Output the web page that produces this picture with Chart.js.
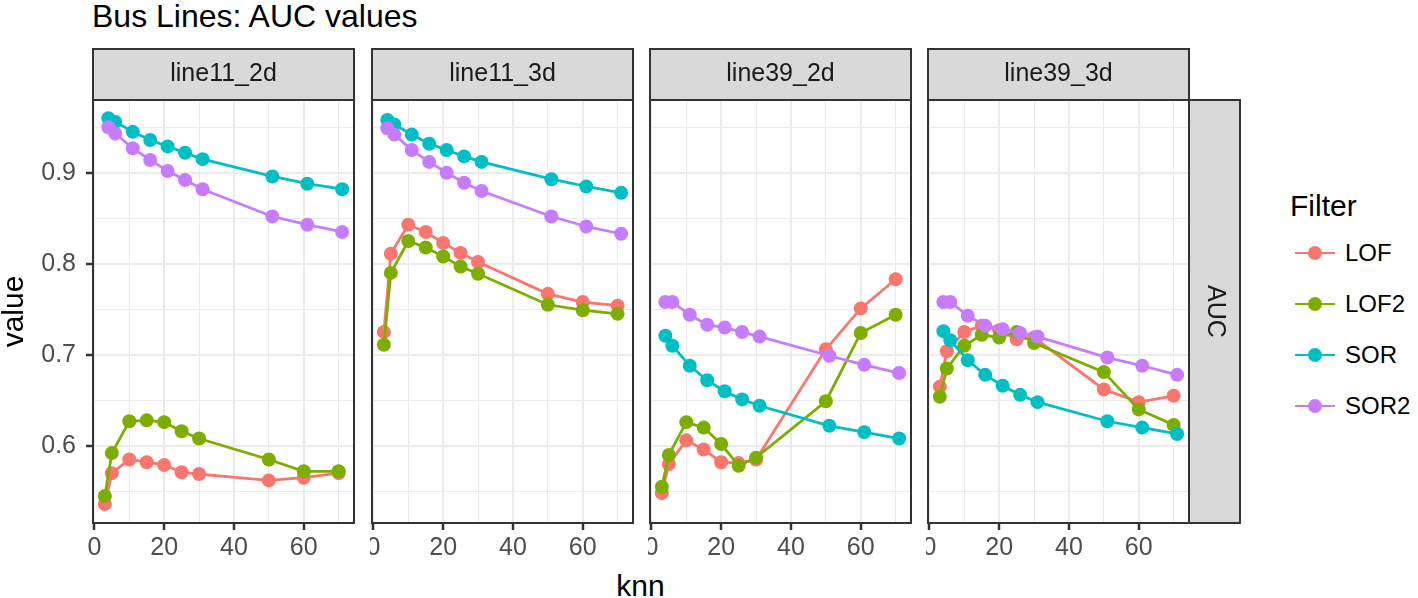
<!DOCTYPE html>
<html>
<head>
<meta charset="utf-8">
<script src="https://cdn.jsdelivr.net/npm/chart.js@4.4.0/dist/chart.umd.min.js"></script>
<style>
    body { margin: 0; width: 1418px; height: 598px; background: #fff; position: relative; overflow: hidden; font-family: "Liberation Sans", Arial, sans-serif; }
    canvas { position: absolute; }
    .txt { position: absolute; white-space: nowrap; color: #000; }
    #title { left: 92px; top: 0; font-size: 32px; line-height: 33px; }
    #knn { left: 0; width: 1281px; top: 571px; text-align: center; font-size: 30px; line-height: 30px; }
    #filter { left: 1290px; top: 191px; font-size: 30px; line-height: 30px; }
    .line { position: absolute; left: 1295px; width: 40px; height: 2.8px; }
    .dot { position: absolute; left: 1308px; width: 14px; height: 14px; border-radius: 50%; }
    .lab { position: absolute; left: 1345px; font-size: 24px; line-height: 24px; color: #000; }
</style>
</head>
<body>
<div id="title" class="txt">Bus Lines: AUC values</div>
<div id="knn" class="txt">knn</div>
<div id="filter" class="txt">Filter</div>
<script>
(function () {

    "use strict";

    // valores de knn (SOR y SOR2 van desplazados en 1)
    var knnLOF = [3, 5, 10, 15, 20, 25, 30, 50, 60, 70];
    var knnSOR = [4, 6, 11, 16, 21, 26, 31, 51, 61, 71];

    var filters = ['LOF', 'LOF2', 'SOR', 'SOR2'];
    var colors = ['#F8766D', '#7CAE00', '#00BFC4', '#C77CFF'];
    var panels = ['line11_2d', 'line11_3d', 'line39_2d', 'line39_3d'];

    var line11_2d_LOF = [0.536, 0.570, 0.585, 0.582, 0.579, 0.571, 0.569, 0.562, 0.565, 0.570];
    var line11_2d_LOF2 = [0.545, 0.592, 0.627, 0.628, 0.626, 0.616, 0.608, 0.585, 0.572, 0.572];
    var line11_2d_SOR = [0.960, 0.956, 0.945, 0.936, 0.929, 0.922, 0.915, 0.896, 0.888, 0.882];
    var line11_2d_SOR2 = [0.950, 0.943, 0.927, 0.914, 0.902, 0.892, 0.882, 0.852, 0.843, 0.835];

    var line11_3d_LOF = [0.725, 0.811, 0.843, 0.835, 0.823, 0.812, 0.802, 0.767, 0.758, 0.754];
    var line11_3d_LOF2 = [0.711, 0.790, 0.825, 0.818, 0.808, 0.797, 0.789, 0.755, 0.749, 0.745];
    var line11_3d_SOR = [0.958, 0.953, 0.942, 0.932, 0.925, 0.918, 0.912, 0.893, 0.885, 0.878];
    var line11_3d_SOR2 = [0.949, 0.942, 0.925, 0.912, 0.900, 0.889, 0.880, 0.852, 0.841, 0.833];

    var line39_2d_LOF = [0.548, 0.580, 0.606, 0.596, 0.582, 0.581, 0.585, 0.706, 0.751, 0.783];
    var line39_2d_LOF2 = [0.555, 0.590, 0.626, 0.620, 0.602, 0.578, 0.587, 0.649, 0.724, 0.744];
    var line39_2d_SOR = [0.721, 0.710, 0.688, 0.672, 0.660, 0.651, 0.644, 0.622, 0.615, 0.608];
    var line39_2d_SOR2 = [0.758, 0.758, 0.744, 0.733, 0.730, 0.725, 0.720, 0.699, 0.689, 0.680];

    var line39_3d_LOF = [0.665, 0.704, 0.725, 0.732, 0.727, 0.717, 0.719, 0.662, 0.648, 0.655];
    var line39_3d_LOF2 = [0.654, 0.685, 0.710, 0.722, 0.719, 0.725, 0.713, 0.681, 0.640, 0.623];
    var line39_3d_SOR = [0.726, 0.716, 0.694, 0.678, 0.666, 0.656, 0.648, 0.627, 0.620, 0.613];
    var line39_3d_SOR2 = [0.758, 0.758, 0.743, 0.732, 0.728, 0.724, 0.720, 0.697, 0.688, 0.678];

    var xTicks = [0, 10, 20, 30, 40, 50, 60, 70];
    var xTickLabels = ['0', '20', '40', '60'];
    var yTicks = [0.55, 0.6, 0.65, 0.7, 0.75, 0.8, 0.85, 0.9, 0.95];
    var yTickLabels = ['0.6', '0.7', '0.8', '0.9'];

    var panelData = {
        line11_2d: [line11_2d_LOF, line11_2d_LOF2, line11_2d_SOR, line11_2d_SOR2],
        line11_3d: [line11_3d_LOF, line11_3d_LOF2, line11_3d_SOR, line11_3d_SOR2],
        line39_2d: [line39_2d_LOF, line39_2d_LOF2, line39_2d_SOR, line39_2d_SOR2],
        line39_3d: [line39_3d_LOF, line39_3d_LOF2, line39_3d_SOR, line39_3d_SOR2]
    };
    var knnFor = [knnLOF, knnLOF, knnSOR, knnSOR];

    // geometria de los paneles
    var panelLeft = [93, 372, 650, 928];
    var panelWidth = 261;
    var top = 48;
    var height = 550;
    var stripRight = 51;

    Chart.defaults.font.family = '"Liberation Sans", Arial, sans-serif';

    function isMajor(list, v) {
        return list.indexOf(String(v)) >= 0;
    }

    /**
     * Dibuja las tiras grises (strips) y el borde del panel
     */
    var facetPlugin = {
        id: 'facet',
        beforeDraw: function (chart) {
            var ctx = chart.ctx, a = chart.chartArea;
            ctx.save();
            ctx.fillStyle = '#d9d9d9';
            ctx.strokeStyle = '#333333';
            ctx.lineWidth = 2;
            ctx.fillRect(a.left, 1, a.right - a.left, a.top - 1);
            ctx.strokeRect(a.left, 1, a.right - a.left, a.top - 1);
            if (chart.options.plugins.facet.right) {
                ctx.fillRect(a.right, a.top, stripRight, a.bottom - a.top);
                ctx.strokeRect(a.right, a.top, stripRight, a.bottom - a.top);
            }
            ctx.restore();
        },
        afterDraw: function (chart) {
            var ctx = chart.ctx, a = chart.chartArea;
            var label = chart.options.plugins.facet.right;
            ctx.save();
            ctx.strokeStyle = '#333333';
            ctx.lineWidth = 2;
            ctx.strokeRect(a.left, a.top, a.right - a.left, a.bottom - a.top);
            if (label) {
                ctx.translate(a.right + stripRight / 2, (a.top + a.bottom) / 2);
                ctx.rotate(Math.PI / 2);
                ctx.fillStyle = '#1a1a1a';
                ctx.font = '25px "Liberation Sans", Arial, sans-serif';
                ctx.textAlign = 'center';
                ctx.textBaseline = 'middle';
                ctx.fillText(label, 0, 0);
            }
            ctx.restore();
        }
    };

    function createPanel(index, name) {
        var first = index === 0;
        var last = index === panels.length - 1;
        var padLeft = first ? 0 : 2;
        var padRight = last ? stripRight + 2 : 2;
        var axisWidth = first ? panelLeft[0] : 0;
        var left = first ? 0 : panelLeft[index] - padLeft;
        var width = axisWidth + padLeft + panelWidth + padRight;

        var canvas = document.createElement('canvas');
        canvas.width = width;
        canvas.height = height;
        canvas.style.left = left + 'px';
        canvas.style.top = top + 'px';
        document.body.appendChild(canvas);

        var datasets = panelData[name].map(function (values, i) {
            return {
                label: filters[i],
                data: values.map(function (v, j) { return { x: knnFor[i][j], y: v }; }),
                borderColor: colors[i],
                backgroundColor: colors[i],
                pointBackgroundColor: colors[i],
                pointBorderColor: colors[i],
                pointBorderWidth: 0,
                pointRadius: 7,
                borderWidth: 2.8,
                tension: 0,
                clip: false,
                order: filters.length - i
            };
        });

        return new Chart(canvas.getContext('2d'), {
            type: 'line',
            data: { datasets: datasets },
            plugins: [facetPlugin],
            options: {
                responsive: false,
                animation: false,
                devicePixelRatio: 1,
                events: [],
                layout: {
                    autoPadding: false,
                    padding: { left: padLeft, right: padRight, top: 0, bottom: 0 }
                },
                plugins: {
                    legend: { display: false },
                    tooltip: { enabled: false },
                    facet: { right: last ? 'AUC' : null },
                    title: {
                        display: true,
                        text: name,
                        fullSize: false,
                        color: '#1a1a1a',
                        font: { size: 25, lineHeight: 1.2, weight: 'normal' },
                        padding: { top: 11, bottom: 11 }
                    }
                },
                scales: {
                    x: {
                        type: 'linear',
                        min: -0.4,
                        max: 74.4,
                        afterBuildTicks: function (s) { s.ticks = xTicks.map(function (v) { return { value: v }; }); },
                        afterFit: function (s) {
                            s.height = 75;
                            s.paddingLeft = 0;
                            s.paddingRight = 0;
                        },
                        border: { display: false },
                        grid: {
                            color: '#ebebeb',
                            lineWidth: function (c) { return c.tick && isMajor(xTickLabels, c.tick.value) ? 2 : 1; },
                            tickColor: function (c) { return c.tick && isMajor(xTickLabels, c.tick.value) ? '#333333' : 'rgba(0,0,0,0)'; },
                            tickLength: 7,
                            tickWidth: 2.5
                        },
                        ticks: {
                            autoSkip: false,
                            maxRotation: 0,
                            padding: 3,
                            color: '#4d4d4d',
                            font: { size: 25 },
                            callback: function (v) { return isMajor(xTickLabels, v) ? String(v) : ''; }
                        }
                    },
                    y: {
                        type: 'linear',
                        min: 0.5152,
                        max: 0.98,
                        afterBuildTicks: function (s) { s.ticks = yTicks.map(function (v) { return { value: v }; }); },
                        afterFit: function (s) {
                            s.width = axisWidth;
                            s.paddingTop = 0;
                            s.paddingBottom = 0;
                        },
                        border: { display: false },
                        title: {
                            display: first,
                            text: 'value',
                            color: '#000',
                            font: { size: 30, lineHeight: 1 },
                            padding: 0
                        },
                        grid: {
                            color: '#ebebeb',
                            drawTicks: first,
                            lineWidth: function (c) { return c.tick && isMajor(yTickLabels, c.tick.value) ? 2 : 1; },
                            tickColor: function (c) { return c.tick && isMajor(yTickLabels, c.tick.value) ? '#333333' : 'rgba(0,0,0,0)'; },
                            tickLength: 7,
                            tickWidth: 2.5
                        },
                        ticks: {
                            display: first,
                            autoSkip: false,
                            padding: 10,
                            color: '#4d4d4d',
                            font: { size: 25 },
                            callback: function (v) { return isMajor(yTickLabels, v) ? String(v) : ''; }
                        }
                    }
                }
            }
        });
    }

    panels.forEach(function (name, index) {
        createPanel(index, name);
    });

    // leyenda al estilo ggplot
    var centers = [253, 304, 355, 406];
    filters.forEach(function (f, i) {
        var line = document.createElement('div');
        line.className = 'line';
        line.style.background = colors[i];
        line.style.top = (centers[i] - 1.4) + 'px';
        var dot = document.createElement('div');
        dot.className = 'dot';
        dot.style.background = colors[i];
        dot.style.top = (centers[i] - 7) + 'px';
        var lab = document.createElement('div');
        lab.className = 'lab';
        lab.style.top = (centers[i] - 11.7) + 'px';
        lab.textContent = f;
        document.body.appendChild(line);
        document.body.appendChild(dot);
        document.body.appendChild(lab);
    });

})();
</script>
</body>
</html>
